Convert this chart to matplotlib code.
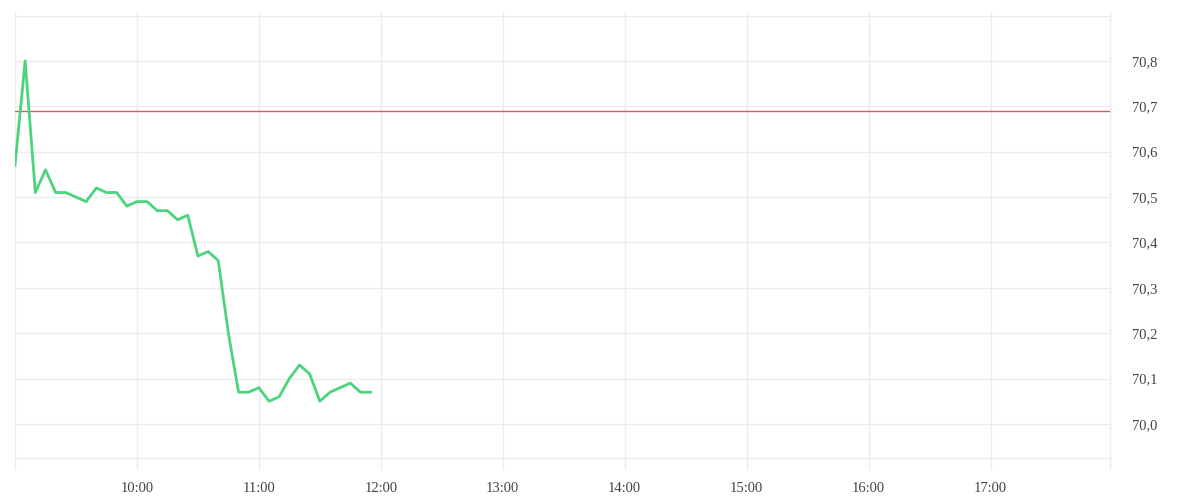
import numpy as np
import matplotlib
matplotlib.use("Agg")
import matplotlib.pyplot as plt

# 5-minute quotes, 9:00 .. 11:55
times = ["09:00", "09:05", "09:10", "09:15", "09:20", "09:25", "09:30", "09:35",
         "09:40", "09:45", "09:50", "09:55", "10:00", "10:05", "10:10", "10:15",
         "10:20", "10:25", "10:30", "10:35", "10:40", "10:45", "10:50", "10:55",
         "11:00", "11:05", "11:10", "11:15", "11:20", "11:25", "11:30", "11:35",
         "11:40", "11:45", "11:50", "11:55"]
prices = [70.57, 70.80, 70.51, 70.56, 70.51, 70.51, 70.50, 70.49,
          70.52, 70.51, 70.51, 70.48, 70.49, 70.49, 70.47, 70.47,
          70.45, 70.46, 70.37, 70.38, 70.36, 70.20, 70.07, 70.07,
          70.08, 70.05, 70.06, 70.10, 70.13, 70.11, 70.05, 70.07,
          70.08, 70.09, 70.07, 70.07]
ref_price = 70.69

hour_ticks = [10, 11, 12, 13, 14, 15, 16, 17]
y_ticks = [70.0, 70.1, 70.2, 70.3, 70.4, 70.5, 70.6, 70.7, 70.8]

x = [int(t[:2]) + int(t[3:]) / 60 for t in times]

grid_c = "#ececec"
text_c = "#444444"

fig = plt.figure(figsize=(12, 5), dpi=100)
ax = fig.add_axes([0.0125, 0.084, 0.9125, 0.884])

ymin, ymax = 69.925, 70.899
ax.set_xlim(9.0, 17.98)
ax.set_ylim(ymin, ymax)

# grid
for yy in y_ticks + [70.9]:
    ax.axhline(yy, color=grid_c, lw=1, zorder=0)
ax.axhline(ymin, color=grid_c, lw=1, zorder=0, clip_on=False)
for h in [9] + hour_ticks + [17.98]:
    ax.axvline(h, ymin=-0.025, ymax=1.01, color=grid_c, lw=1, zorder=0, clip_on=False)

ax.axhline(ref_price, color="#e0585e", lw=1.0, zorder=2)
ax.plot(x, prices, color="#4cd47c", lw=2.0, zorder=3)

for s in ax.spines.values():
    s.set_visible(False)

ax.set_xticks(hour_ticks)
ax.set_xticklabels([f"{h}:00" for h in hour_ticks])
ax.set_yticks(y_ticks)
ax.set_yticklabels([f"{v:.1f}".replace(".", ",") for v in y_ticks])
ax.yaxis.tick_right()
ax.tick_params(axis="both", length=0, labelsize=10.5, colors=text_c)
ax.tick_params(axis="x", pad=17)
ax.tick_params(axis="y", pad=16)
for lab in ax.get_xticklabels() + ax.get_yticklabels():
    lab.set_family("Liberation Serif")

fig.savefig("out.png", dpi=100, facecolor="white")
